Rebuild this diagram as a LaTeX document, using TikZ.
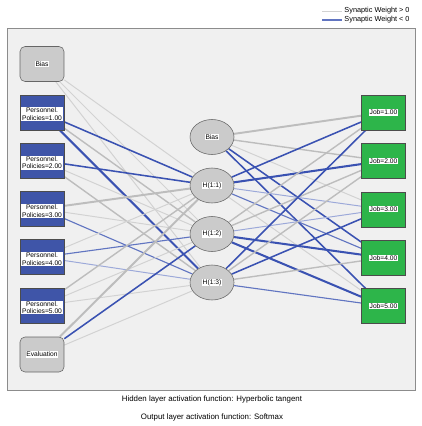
\documentclass[tikz,border=0pt]{standalone}
\usepackage{fontspec}
\setmainfont{Liberation Sans}
\usepackage{xcolor}
\usetikzlibrary{shapes.geometric}
\definecolor{panelgray}{HTML}{F0F0F0}
\definecolor{framegray}{HTML}{8C8C8C}
\definecolor{inblue}{HTML}{3F55A8}
\definecolor{outgreen}{HTML}{2DB54A}
\definecolor{nodegray}{HTML}{CBCBCB}
\definecolor{negblue}{HTML}{3A52B2}
\definecolor{posgray}{HTML}{BDBDBD}
\definecolor{poslight}{HTML}{D2D2D2}
\pgfdeclarelayer{panel}
\pgfdeclarelayer{wires}
\pgfsetlayers{panel,wires,main}

\begin{document}
\begin{tikzpicture}[x=0.05cm, y=-0.05cm,
  every node/.style={font=\fontsize{9.5}{10.8}\selectfont},
  tag/.style={fill=white, inner sep=0.8pt},
  band/.style={fill=white, inner sep=1pt, minimum width=2.1cm, align=center, yshift=-0.1cm},
  unitbox/.style={draw=black!60, line width=0.8pt, minimum width=2.2cm, minimum height=1.75cm, inner sep=0pt},
  biasbox/.style={unitbox, fill=nodegray, rounded corners=0.25cm, label={[tag]center:#1}},
  catbox/.style={unitbox, fill=inblue, draw=black!70, label={[band]center:#1}},
  hid/.style={unitbox, ellipse, fill=nodegray, label={[tag]center:#1}},
  outbox/.style={unitbox, fill=outgreen, draw=black!70, label={[tag]center:#1}},
  wpos1/.style={draw=poslight, line width=1.4pt},
  wpos2/.style={draw=posgray, line width=2pt},
  wpos3/.style={draw=posgray, line width=2.8pt},
  wneg0/.style={draw=negblue!50, line width=1.4pt},
  wneg1/.style={draw=negblue!80, line width=1.6pt},
  wneg2/.style={draw=negblue, line width=2.2pt},
  wneg3/.style={draw=negblue, line width=2.9pt}]
  \useasboundingbox (0,0) rectangle (422,426);
  % ---------- INPUT LAYER ----------
  \node[biasbox=Bias] (ib) at (42,64) {};
  \foreach \i in {1,...,5}
    \node[catbox={Personnel.\\Policies=\i.00}] (p\i) at (42,64+48.3*\i) {};
  \node[biasbox=Evaluation] (ev) at (42,354.5) {};
  % ---------- HIDDEN LAYER ----------
  \node[hid=Bias] (hb) at (212,137) {};
  \foreach \i in {1,2,3}
    \node[hid={H(1:\i)}] (h\i) at (212,137+48.5*\i) {};
  % ---------- OUTPUT LAYER ----------
  \foreach \i in {1,...,5}
    \node[outbox={Job=\i.00}] (o\i) at (383.5,112.5+48.4*\i-48.4) {};
  % ---------- WEIGHTS ----------
  \begin{pgfonlayer}{wires}
    \foreach \a/\b/\w in {ib/h1/wpos1, ib/h2/wpos1, ib/h3/wpos1,
        p1/h1/wneg2, p1/h2/wpos2, p1/h3/wneg3,
        p2/h1/wneg2, p2/h2/wpos1, p2/h3/wpos2,
        p3/h1/wpos3, p3/h2/wpos1, p3/h3/wneg1,
        p4/h1/wpos1, p4/h2/wneg1, p4/h3/wneg0,
        p5/h1/wpos2, p5/h2/wpos1, p5/h3/wpos1,
        ev/h1/wpos3, ev/h2/wneg2, ev/h3/wpos1}
      \draw[\w] (\a) -- (\b);
    \foreach \a/\b/\w in {hb/o1/wpos3, hb/o2/wpos2, hb/o3/wpos1, hb/o4/wneg2, hb/o5/wneg2,
        h1/o1/wneg2, h1/o2/wneg3, h1/o3/wneg0, h1/o4/wneg1, h1/o5/wpos1,
        h2/o1/wpos2, h2/o2/wpos2, h2/o3/wneg0, h2/o4/wneg3, h2/o5/wneg3,
        h3/o1/wneg2, h3/o2/wpos2, h3/o3/wneg2, h3/o4/wpos2, h3/o5/wneg1}
      \draw[\w] (\a) -- (\b);
  \end{pgfonlayer}
  % ---------- PANEL ----------
  \begin{pgfonlayer}{panel}
    \draw[draw=framegray, line width=0.9pt, fill=panelgray] (7,28) rectangle (415,390);
  \end{pgfonlayer}
  % ---------- LEGEND ----------
  \node[anchor=west, font=\fontsize{10.4}{12}\selectfont] (lgpos) at (342,11) {Synaptic Weight > 0};
  \node[anchor=west, font=\fontsize{10.4}{12}\selectfont] (lgneg) at (342,20) {Synaptic Weight < 0};
  \coordinate (lgposa) at (322,11);
  \coordinate (lgnega) at (322,20);
  \draw[wpos1] (lgposa) -- (lgpos.west);
  \draw[wneg1] (lgnega) -- (lgneg.west);
  % ---------- CAPTION ----------
  \node[font=\fontsize{11.2}{13}\selectfont] (capa) at (212,399) {Hidden layer activation function: Hyperbolic tangent};
  \node[font=\fontsize{11.2}{13}\selectfont] (capb) at (212,417) {Output layer activation function: Softmax};
\end{tikzpicture}
\end{document}
